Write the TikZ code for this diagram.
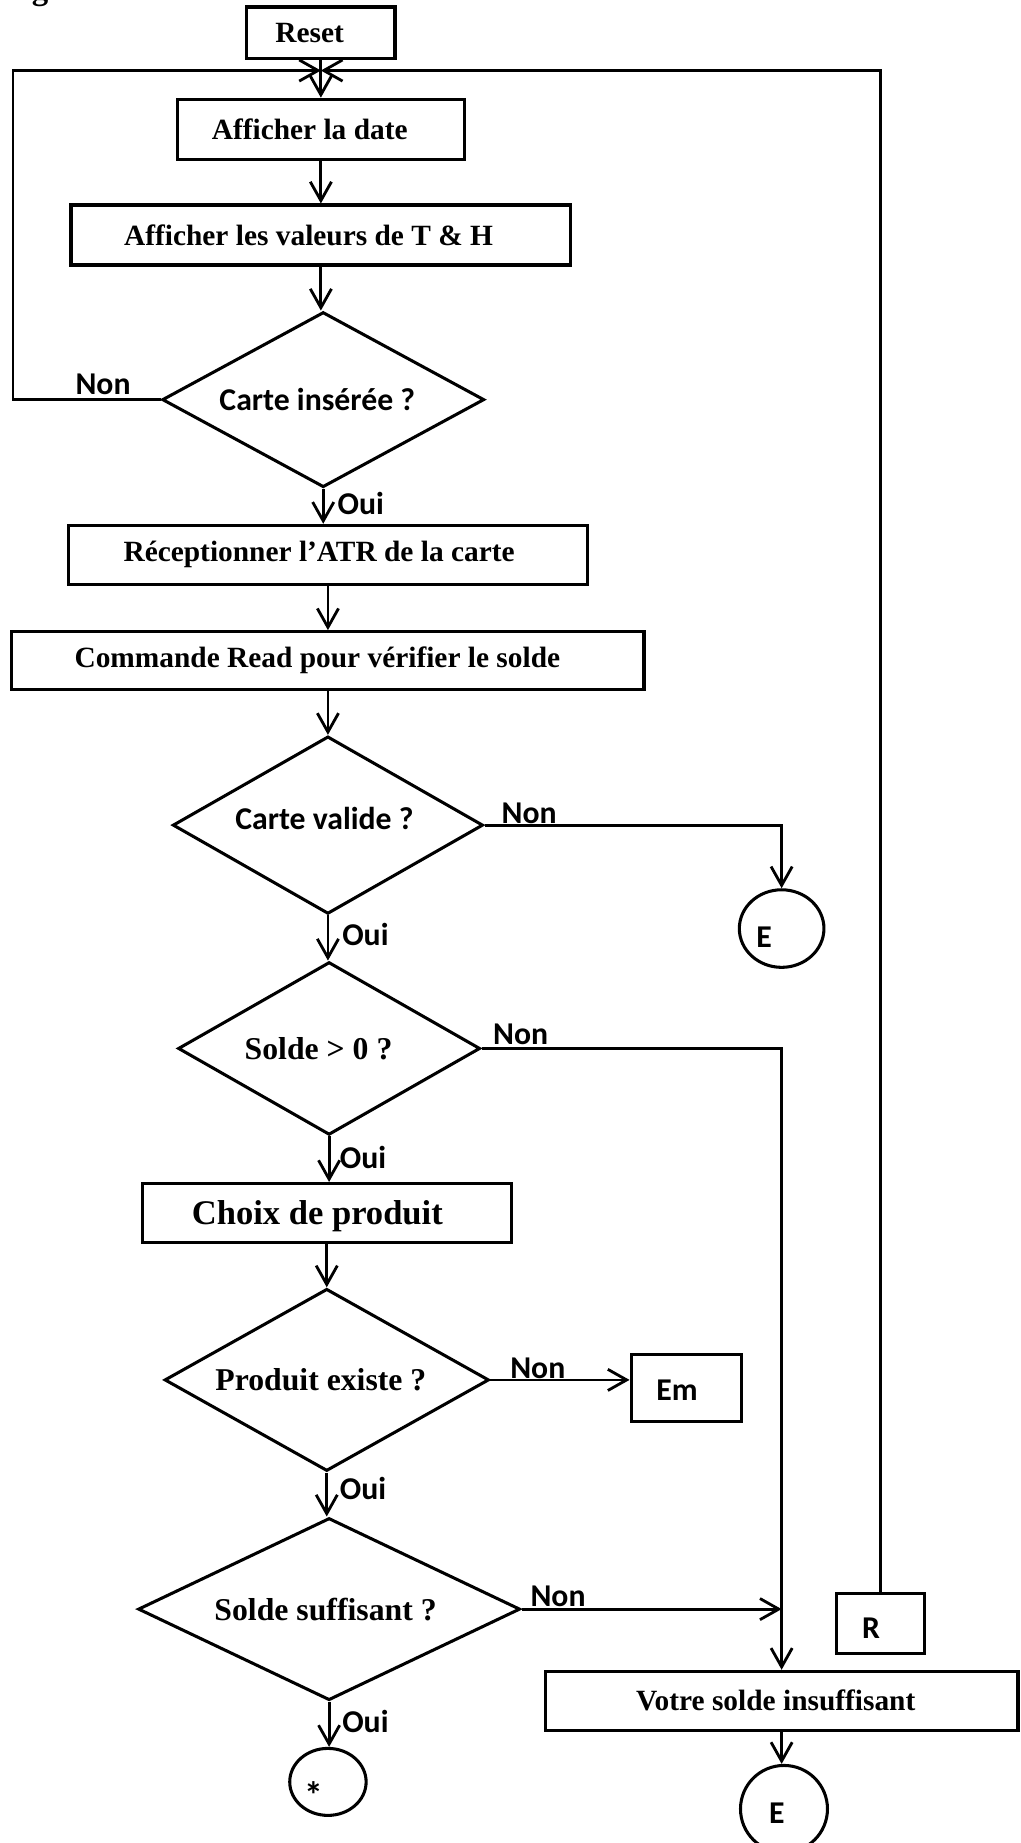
\documentclass[tikz,border=0pt]{standalone}
\usepackage{fontspec}
\setmainfont{Liberation Serif}
\newfontfamily\calib{Carlito}
\usetikzlibrary{shapes.geometric,arrows.meta}

\tikzset{
  boite/.style={draw, line width=2.8pt, inner sep=0pt, font=\bfseries\fontsize{25}{30}\selectfont},
  test/.style={draw, diamond, aspect=1.8, line width=2.6pt, inner sep=0pt, font=\bfseries\fontsize{27}{32}\selectfont},
  sanstest/.style={test, font=\calib\bfseries\fontsize{27}{32}\selectfont},
  rond/.style={draw, ellipse, line width=2.6pt, inner sep=0pt},
  lbl/.style={inner sep=0pt, font=\calib\bfseries\fontsize{27}{32}\selectfont},
  decal/.style={execute at end node={\hspace*{#1}}},
  fleche/.style={line width=2.4pt, -{Straight Barb[length=16pt,width=18pt]}},
}

\begin{document}
\begin{tikzpicture}[x=1pt,y=-1pt]
\useasboundingbox (0,0) rectangle (868,1568);

% reste du titre
\node[anchor=base west, inner sep=0pt, font=\bfseries\fontsize{28}{30}\selectfont] (titre) at (27,0) {g};

% Boites
\node[boite, decal=19pt, minimum width=126pt, minimum height=44pt] (reset) at (273,28) {Reset};
\node[boite, decal=19pt, minimum width=244pt, minimum height=51pt] (date) at (273,110) {Afficher la date};
\node[boite, decal=21pt, minimum width=425pt, minimum height=51pt] (val) at (273,200) {Afficher les valeurs de T \& H};
\node[sanstest, decal=10pt, minimum width=274pt, minimum height=149pt] (ins) at (275,340) {Carte insérée ?};
\node[boite, decal=15pt, minimum width=442pt, minimum height=50pt] (atr) at (279,472) {Réceptionner l’ATR de la carte};
\node[boite, decal=18pt, minimum width=538pt, minimum height=49pt] (read) at (279,562) {Commande Read pour vérifier le solde};
\node[sanstest, decal=6pt, text depth=12pt, minimum width=264pt, minimum height=151pt] (valide) at (279,702) {Carte valide ?};
\node[rond, minimum width=72pt, minimum height=66pt,
  label={[lbl, name=e1txt, xshift=-15pt, yshift=-7pt]center:E}] (e1) at (665,790) {};
\node[test, decal=18pt, minimum width=257pt, minimum height=147pt] (solde) at (280,892) {Solde > 0 ?};
\node[boite, decal=16pt, text depth=0pt, minimum width=314pt, minimum height=50pt, font=\bfseries\fontsize{29.4}{34}\selectfont] (choix) at (278,1032) {Choix de produit};
\node[test, decal=10pt, minimum width=276pt, minimum height=155pt] (prod) at (278,1174) {Produit existe ?};
\node[boite, minimum width=94pt, minimum height=57pt,
  label={[lbl, name=emtxt, xshift=-8pt, yshift=-2pt]center:Em}] (em) at (584,1181) {};
\node[test, decal=6pt, minimum width=325pt, minimum height=155pt] (suff) at (280,1369) {Solde suffisant ?};
\node[boite, minimum width=75pt, minimum height=51pt,
  label={[lbl, name=rtxt, xshift=-8pt, yshift=-4pt]center:R}] (r) at (749,1381) {};
\node[boite, decal=10pt, minimum width=402pt, minimum height=50pt] (votre) at (665,1447) {Votre solde insuffisant};
\node[rond, minimum width=74pt, minimum height=74pt,
  label={[lbl, name=e2txt, xshift=-6pt, yshift=-4pt]center:E}] (e2) at (667,1539) {};
\node[rond, minimum width=65pt, minimum height=57pt,
  label={[lbl, name=etoiletxt, xshift=-12pt, yshift=-11pt, font=\calib\bfseries\fontsize{32}{36}\selectfont]center:*}] (etoile) at (279,1516) {};

% Points de retour
\coordinate (jonction) at (273,60);
\coordinate (gauche) at (11,340);

% Fleches
\draw[fleche] (reset) -- (date);
\draw[fleche] (date.south) -- (date.south |- val.north);
\draw[fleche] (val.south) -- (val.south |- ins.north);
\draw[fleche] (ins.west) -- node[lbl, pos=.39, above=3pt] (non1) {Non} (ins.west -| gauche) |- (jonction);
\draw[fleche] (r.north) |- (jonction);
\draw[fleche] (ins.south) -- node[lbl, pos=.42, right=11pt] (oui1) {Oui} (ins.south |- atr.north);
\draw[fleche] (atr.south) -- (atr.south |- read.north);
\draw[fleche] (read.south) -- (read.south |- valide.north);
\draw[fleche] (valide.east) -- node[lbl, pos=.15, above=0pt] (non2) {Non} (valide.east -| e1.north) -- (e1.north);
\draw[fleche] (valide.south) -- node[lbl, pos=.43, right=11pt] (oui2) {Oui} (valide.south |- solde.north);
\draw[fleche] (solde.east) -- node[lbl, pos=.13, above=2pt] (non3) {Non} (solde.east -| votre.north) -- (votre.north);
\draw[fleche] (solde.south) -- node[lbl, pos=.46, right=8pt] (oui3) {Oui} (solde.south |- choix.north);
\draw[fleche] (choix.south) -- (choix.south |- prod.north);
\draw[fleche] (prod.east) -- node[lbl, pos=.34, above=0pt] (non4) {Non} (prod.east -| em.west);
\draw[fleche] (prod.south) -- node[lbl, pos=.37, right=10pt] (oui4) {Oui} (prod.south |- suff.north);
\draw[fleche] (suff.east) -- node[lbl, pos=.14, above=1pt] (non5) {Non} (suff.east -| votre.north);
\draw[fleche] (suff.south) -- node[lbl, pos=.44, right=10pt] (oui5) {Oui} (suff.south |- etoile.north);
\draw[fleche] (votre.south) -- (votre.south |- e2.north);
\end{tikzpicture}
\end{document}
